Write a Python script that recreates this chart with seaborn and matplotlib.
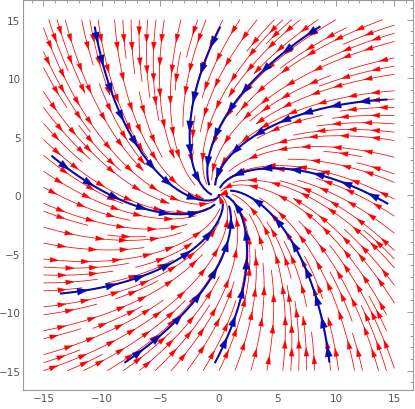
import numpy as np
import matplotlib
matplotlib.use("Agg")
import matplotlib.pyplot as plt
import matplotlib.patches as mpatches
from matplotlib.ticker import MultipleLocator
import seaborn as sns

# ==========================
# Data
# ==========================

# linear system  (dx/dt, dy/dt) = A (x, y)  -> stable focus, counter-clockwise
field_matrix = [[-2.0, -1.0],
                [1.0, -2.0]]

domain = [-15, 15]
xlim = [-16.72, 16.54]
ylim = [-16.65, 16.68]
major_ticks = [-15, -10, -5, 0, 5, 10, 15]

# seed points of the highlighted (blue) trajectories
seed_x = [-10.7, 0.35, 9.1, 14.9, 14.9, 9.5, -0.6, -8.5, -14.1, -14.7]
seed_y = [14.9, 14.85, 14.7, 8.2, -1.0, -14.8, -14.8, -14.6, -8.45, 3.7]

red = "#ff0000"
blue = "#0a0aaa"
frame_color = "#9a9a9a"
label_color = "#555555"

# ==========================
# Style
# ==========================

sns.set_theme(style="white")
plt.rcParams["font.family"] = ["DejaVu Sans"]

fig = plt.figure(figsize=(4.15, 4.10), dpi=100)
ax = fig.add_axes([23.3 / 415, 19 / 410, 389.2 / 415, 390 / 410])

# ==========================
# Vector field
# ==========================

gx = np.linspace(domain[0], domain[1], 121)
gy = np.linspace(domain[0], domain[1], 121)
X, Y = np.meshgrid(gx, gy)
A = np.array(field_matrix)
U = A[0, 0] * X + A[0, 1] * Y
V = A[1, 0] * X + A[1, 1] * Y

red_set = ax.streamplot(X, Y, U, V, density=1.5, color=red, linewidth=0.55,
                        arrowstyle="-", arrowsize=0.1, broken_streamlines=True)

blue_set = ax.streamplot(X, Y, U, V, start_points=np.column_stack([seed_x, seed_y]),
                         density=2.0, color=blue, linewidth=1.5, arrowstyle="-",
                         arrowsize=0.1, integration_direction="forward",
                         broken_streamlines=True, zorder=3)

# drop matplotlib's single arrows, we place our own along each line
for p in list(ax.patches):
    p.remove()


def split_lines(collection):
    # whole streamlines, or 2-point segments glued back together
    lines, cur = [], []
    for s in collection.get_segments():
        s = np.asarray(s)
        if len(s) > 2:
            lines.append(s)
            continue
        if cur and np.allclose(cur[-1], s[0]):
            cur.append(s[1])
        else:
            if len(cur) > 1:
                lines.append(np.array(cur))
            cur = [s[0], s[1]]
    if len(cur) > 1:
        lines.append(np.array(cur))
    return lines


def add_arrows(lines, color, spacing, style, scale, z):
    for i, pts in enumerate(lines):
        d = np.hypot(*np.diff(pts, axis=0).T)
        s = np.concatenate([[0], np.cumsum(d)])
        pos = spacing * (0.45 + 0.55 * ((i * 0.618) % 1))
        while pos < s[-1] - 0.3:
            n = max(1, np.searchsorted(s, pos))
            ax.add_patch(mpatches.FancyArrowPatch(
                pts[n - 1], pts[n], arrowstyle=style, mutation_scale=scale,
                color=color, lw=0.2, shrinkA=0, shrinkB=0, zorder=z))
            pos += spacing


add_arrows(split_lines(red_set.lines), red, 2.5, "-|>,head_length=0.6,head_width=0.18", 10, 2)
add_arrows(split_lines(blue_set.lines), blue, 2.4, "-|>,head_length=0.8,head_width=0.26", 10, 4)

# ==========================
# Axes / frame
# ==========================

ax.set_xlim(xlim)
ax.set_ylim(ylim)
ax.set_xticks(major_ticks)
ax.set_yticks(major_ticks)
ax.xaxis.set_minor_locator(MultipleLocator(1))
ax.yaxis.set_minor_locator(MultipleLocator(1))
ax.tick_params(which="both", direction="in", top=True, right=True,
               color=frame_color, width=0.7)
ax.tick_params(which="major", length=4.5, labelsize=7.5,
               labelcolor=label_color, pad=2)
ax.tick_params(which="minor", length=2.5)
for sp in ax.spines.values():
    sp.set_color(frame_color)
    sp.set_linewidth(0.8)

fig.savefig("out.png", dpi=100)
